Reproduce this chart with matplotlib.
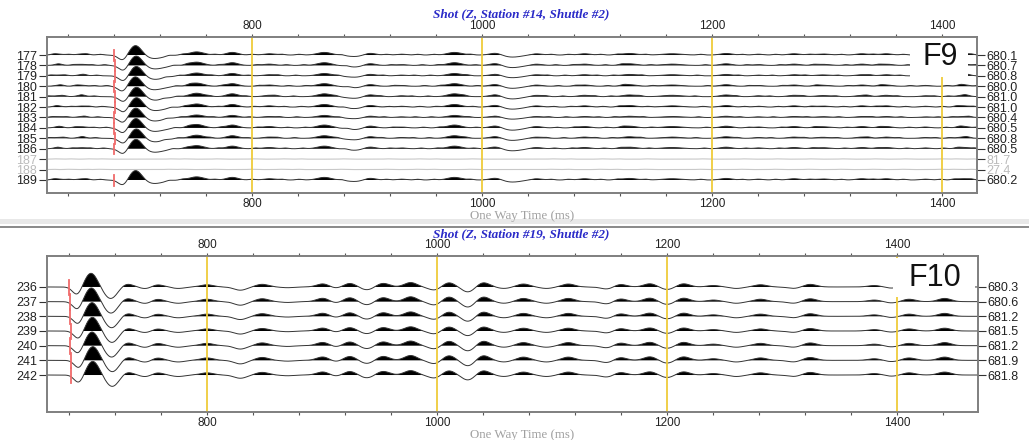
import numpy as np
import matplotlib.pyplot as plt
from matplotlib.patches import Rectangle

W, H = 1029, 440

# ---------------- shot at station 14 (F9) ----------------
top_traces = [177, 178, 179, 180, 181, 182, 183, 184, 185, 186, 187, 188, 189]
top_picks = [680.1, 680.7, 680.8, 680.0, 681.0, 681.0, 680.4, 680.5, 680.8, 680.5, 81.7, 27.4, 680.2]
top_live = [1, 1, 1, 1, 1, 1, 1, 1, 1, 1, 0, 0, 1]
top_gain = [1.0, 1.05, 0.9, 1.0, 1.1, 1.0, 0.8, 1.1, 1.0, 1.0, 0.0, 0.0, 1.0]

# first arrival: offset from pick (ms), amplitude (trace spacings), width (ms)
top_first_dt = [8, 19, 34]
top_first_amp = [-0.55, 1.0, -0.35]
top_first_wid = [4, 5.5, 9]

# later arrivals
top_evt_t = [632, 652, 752, 783, 815, 863, 890, 902, 930, 976, 1012, 1026, 1047,
             1089, 1128, 1165, 1212, 1240, 1271, 1296, 1330, 1351, 1385, 1418]
top_evt_amp = [0.08, 0.1, 0.3, 0.25, 0.12, 0.25, -0.15, 0.2, 0.08, 0.25, 0.2, -0.2, 0.12,
               0.12, 0.15, 0.12, 0.15, 0.08, 0.12, 0.1, 0.12, 0.12, 0.08, 0.12]
top_evt_wid = [4, 4, 6, 5, 5, 6, 8, 5, 4, 6, 5, 8, 5,
               5, 6, 8, 5, 4, 5, 6, 5, 5, 4, 5]

# small ripples
top_noise_t = [628, 641, 657, 668, 728, 740, 768, 800, 826, 841, 878, 917, 944, 958, 990,
               1060, 1075, 1103, 1117, 1142, 1190, 1226, 1255, 1284, 1312, 1340, 1366,
               1398, 1410, 1425]
top_noise_shift = [0, 4, -3, 6, -5, 2, -2, 5, -4, 3, 1, -1, 0]
top_noise_amp = 0.07

# ---------------- shot at station 19 (F10) ----------------
bot_traces = [236, 237, 238, 239, 240, 241, 242]
bot_picks = [680.3, 680.6, 681.2, 681.5, 681.2, 681.9, 681.8]
bot_live = [1, 1, 1, 1, 1, 1, 1]
bot_gain = [1.0, 1.1, 1.0, 0.95, 1.05, 1.1, 1.0]

bot_first_dt = [7, 19, 36]
bot_first_amp = [-0.55, 0.95, -0.8]
bot_first_wid = [4, 5.5, 6]

bot_evt_t = [730, 748, 756, 775, 800, 829, 848, 870, 901, 912, 924, 939, 953, 977, 998,
             1010, 1027, 1040, 1058, 1075, 1095, 1114, 1148, 1159, 1185, 1200, 1214,
             1240, 1260, 1281, 1310, 1324, 1380, 1395, 1410, 1441]
bot_evt_amp = [0.22, -0.15, 0.18, -0.1, 0.15, -0.22, 0.18, -0.05, 0.22, -0.1, 0.25, -0.2,
               0.25, 0.3, -0.22, 0.3, -0.35, 0.3, -0.1, 0.2, -0.1, 0.2, -0.15, 0.18, 0.22,
               -0.18, 0.22, 0.1, -0.1, 0.15, -0.1, 0.18, 0.1, -0.08, 0.15, 0.2]
bot_evt_wid = [5.5] * len(bot_evt_t)
bot_noise_t = []
bot_noise_shift = [0] * 7
bot_noise_amp = 0.0


def gauss(t, c, w):
    return np.exp(-0.5 * ((t - c) / w) ** 2)


def draw_panel(ax, traces, picks, live, gain, first_dt, first_amp, first_wid,
               evt_t, evt_amp, evt_wid, noise_t, noise_shift, noise_amp,
               xlim, top_pad, bot_pad, ticks):
    t = np.arange(xlim[0], xlim[1], 0.5)
    pos = [-i for i in range(len(traces))]
    for i, p in enumerate(pos):
        s = np.zeros_like(t)
        for nt in noise_t:
            s += noise_amp * gauss(t, nt + noise_shift[i], 2.5)
        if live[i]:
            for dt, a, w in zip(first_dt, first_amp, first_wid):
                s += a * gauss(t, picks[i] + dt, w)
            for et, a, w in zip(evt_t, evt_amp, evt_wid):
                s += gain[i] * a * gauss(t, et, w)
            ax.fill_between(t, p, p + s, where=s > 0, color='black', lw=0,
                            interpolate=True, zorder=3)
            ax.plot(t, p + s, color='#333333', lw=0.7, zorder=4)
            ax.plot([picks[i], picks[i]], [p - 0.55, p + 0.5], color='#F06A6A',
                    lw=1.3, zorder=5)
        else:
            ax.plot(t, p + 0.4 * s, color='#C8C8C8', lw=0.8, zorder=4)

    for x in [800, 1000, 1200, 1400]:
        ax.axvline(x, color='#EFCB3A', lw=1.3, zorder=6)

    ax.set_xlim(xlim)
    ax.set_ylim(pos[-1] - bot_pad, top_pad)
    ax.set_xticks(ticks)
    ax.set_xticklabels([str(v) if v % 200 == 0 else '' for v in ticks])
    ax.tick_params(axis='x', top=True, labeltop=True, bottom=True, labelbottom=True,
                   direction='out', length=2.5, color='#555555', labelsize=8.5,
                   pad=1, labelcolor='#222222')
    ax.set_yticks(pos)
    ax.set_yticklabels([str(v) for v in traces])
    ax.tick_params(axis='y', direction='out', length=6, color='#333333',
                   labelsize=9, pad=1, labelcolor='#222222')
    for lab, lv in zip(ax.get_yticklabels(), live):
        if not lv:
            lab.set_color('#BBBBBB')

    ax2 = ax.twinx()
    ax2.set_ylim(ax.get_ylim())
    ax2.set_yticks(pos)
    ax2.set_yticklabels(['%.1f' % v for v in picks])
    ax2.tick_params(axis='y', direction='out', length=6, color='#333333',
                    labelsize=9, pad=1, labelcolor='#222222')
    for lab, lv in zip(ax2.get_yticklabels(), live):
        if not lv:
            lab.set_color('#BBBBBB')

    for a in (ax, ax2):
        for sp in a.spines.values():
            sp.set_color('#7F7F7F')
            sp.set_linewidth(1.2)


fig = plt.figure(figsize=(W / 100, H / 100), dpi=100)
plt.rcParams['font.family'] = ['Liberation Sans', 'DejaVu Sans']

ax_top = fig.add_axes([47 / W, 1 - 193 / H, 930 / W, 156 / H])
draw_panel(ax_top, top_traces, top_picks, top_live, top_gain,
           top_first_dt, top_first_amp, top_first_wid,
           top_evt_t, top_evt_amp, top_evt_wid,
           top_noise_t, top_noise_shift, top_noise_amp,
           (622, 1430), 1.73, 1.25, np.arange(640, 1430, 40))

ax_bot = fig.add_axes([47 / W, 1 - 412 / H, 931 / W, 156 / H])
draw_panel(ax_bot, bot_traces, bot_picks, bot_live, bot_gain,
           bot_first_dt, bot_first_amp, bot_first_wid,
           bot_evt_t, bot_evt_amp, bot_evt_wid,
           bot_noise_t, bot_noise_shift, bot_noise_amp,
           (661, 1470), 2.11, 2.52, np.arange(680, 1470, 40))

title_kw = dict(ha='center', va='center', fontsize=9.5, color='#2A2AC8',
                fontstyle='italic', fontweight='bold', family='Liberation Serif')
fig.text(521 / W, 1 - 14 / H, 'Shot (Z, Station #14, Shuttle #2)', **title_kw)
fig.text(521 / W, 1 - 234 / H, 'Shot (Z, Station #19, Shuttle #2)', **title_kw)

xl_kw = dict(ha='center', va='center', fontsize=9.3, color='#A0A0A0',
             family='Liberation Serif')
fig.text(522 / W, 1 - 215.5 / H, 'One Way Time (ms)', **xl_kw)
fig.text(522 / W, 1 - 434.5 / H, 'One Way Time (ms)', **xl_kw)

# panel labels on white boxes
fig.add_artist(Rectangle((910 / W, 1 - 77 / H), 58 / W, 39 / H, transform=fig.transFigure,
                         fc='white', ec='none', zorder=10))
fig.text(940 / W, 1 - 57 / H, 'F9', ha='center', va='center', fontsize=22,
         color='#111111', zorder=11)
fig.add_artist(Rectangle((893 / W, 1 - 297 / H), 82 / W, 39 / H, transform=fig.transFigure,
                         fc='white', ec='none', zorder=10))
fig.text(935 / W, 1 - 278 / H, 'F10', ha='center', va='center', fontsize=22,
         color='#111111', zorder=11)

# separator between the two panels
fig.add_artist(Rectangle((0, 1 - 224 / H), 1, 5 / H, transform=fig.transFigure,
                         fc='#E8E8E8', ec='none', zorder=1))
fig.add_artist(Rectangle((0, 1 - 228.5 / H), 1, 2.5 / H, transform=fig.transFigure,
                         fc='#8C8C8C', ec='none', zorder=1))

fig.savefig('out.png', dpi=100)
